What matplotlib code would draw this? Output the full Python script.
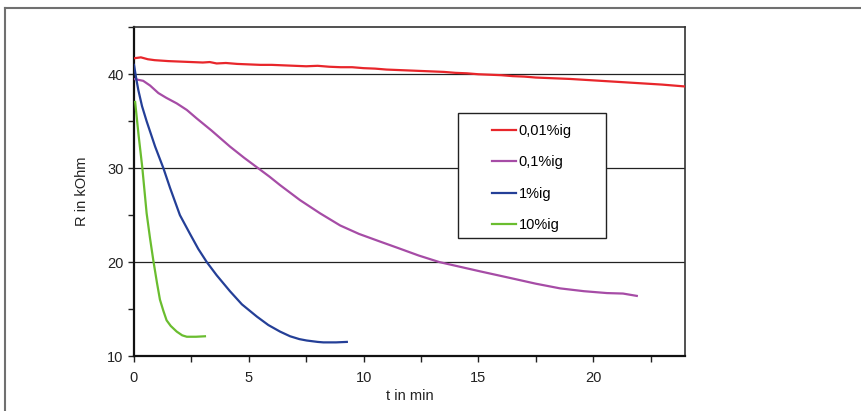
import numpy as np
import matplotlib.pyplot as plt
from matplotlib.lines import Line2D
from matplotlib.patches import Rectangle
from matplotlib.ticker import MultipleLocator, FixedLocator

plt.rcParams['font.family'] = ['Liberation Sans', 'DejaVu Sans']

red_t = [0, 0.3, 0.6, 0.9, 1.2, 1.5, 2.0, 2.5, 3.0, 3.3, 3.6, 4.0, 4.5, 5.0, 5.5, 6.0,
         6.5, 7.0, 7.5, 8.0, 8.5, 9.0, 9.5, 10.0, 10.5, 11.0, 11.5, 12.0, 12.5, 13.0,
         13.5, 14.0, 14.5, 15.0, 15.5, 16.0, 16.5, 17.0, 17.5, 18.0, 19.0, 20.0, 21.0,
         22.0, 23.0, 24.0]
red_R = [41.7, 41.8, 41.6, 41.5, 41.45, 41.4, 41.35, 41.3, 41.25, 41.3, 41.15, 41.2,
         41.1, 41.05, 41.0, 41.0, 40.95, 40.9, 40.85, 40.9, 40.8, 40.75, 40.75, 40.65,
         40.6, 40.5, 40.45, 40.4, 40.35, 40.3, 40.25, 40.15, 40.1, 40.0, 39.95, 39.9,
         39.8, 39.75, 39.65, 39.6, 39.5, 39.35, 39.2, 39.05, 38.9, 38.7]

purple_t = [0, 0.4, 0.7, 1.06, 1.4, 1.86, 2.3, 2.73, 3.38, 4.18, 4.8, 5.35, 5.9, 6.36,
            7.23, 8.1, 8.98, 9.8, 10.7, 11.5, 12.4, 13.3, 14.2, 15.1, 16.4, 17.5,
            18.56, 19.6, 20.6, 21.3, 21.9]
purple_R = [39.5, 39.3, 38.8, 38.0, 37.5, 36.9, 36.2, 35.3, 34.0, 32.3, 31.1, 30.1,
            29.1, 28.2, 26.6, 25.2, 23.9, 23.0, 22.2, 21.5, 20.7, 20.0, 19.5, 19.0,
            18.3, 17.7, 17.2, 16.9, 16.7, 16.65, 16.4]

blue_t = [0, 0.1, 0.19, 0.35, 0.55, 0.92, 1.28, 1.57, 2.0, 2.44, 2.8, 3.17, 3.6, 4.18,
          4.7, 5.35, 5.85, 6.36, 6.8, 7.2, 7.52, 8.0, 8.25, 8.8, 9.27]
blue_R = [41.0, 39.5, 38.3, 36.6, 35.0, 32.3, 30.0, 27.9, 25.0, 23.0, 21.4, 20.0, 18.6,
          16.9, 15.5, 14.2, 13.3, 12.6, 12.1, 11.8, 11.65, 11.5, 11.45, 11.45, 11.5]

green_t = [0.05, 0.2, 0.36, 0.55, 0.7, 0.84, 1.0, 1.13, 1.28, 1.42, 1.6, 1.86, 2.1,
           2.3, 2.7, 3.09]
green_R = [37.05, 33.5, 30.1, 25.2, 22.5, 20.2, 17.8, 16.0, 14.8, 13.8, 13.2, 12.6,
           12.2, 12.05, 12.05, 12.1]

labels = ['0,01%ig', '0,1%ig', '1%ig', '10%ig']
colors = ['#e8262b', '#a64ca6', '#243f97', '#6abd2f']

W, H = 862, 411
fig = plt.figure(figsize=(W / 100, H / 100), dpi=100)
ax = fig.add_axes([134 / W, 1 - 356 / H, 551 / W, 328.7 / H])

# Rahmen links/oben
fig.add_artist(Line2D([5 / W, 5 / W], [0, 1 - 8 / H], transform=fig.transFigure,
                      color='#707070', lw=1.5))
fig.add_artist(Line2D([5 / W, 1], [1 - 8 / H, 1 - 8 / H], transform=fig.transFigure,
                      color='#707070', lw=1.5))

series = [(red_t, red_R), (purple_t, purple_R), (blue_t, blue_R), (green_t, green_R)]
handles = []
for (t, r), c, lab in zip(series, colors, labels):
    h, = ax.plot(t, r, color=c, lw=1.6, label=lab, zorder=3,
                 solid_joinstyle='round')
    handles.append(h)

ax.set_xlim(0, 24)
ax.set_ylim(10, 45)
ax.xaxis.set_major_locator(MultipleLocator(5))
ax.xaxis.set_minor_locator(MultipleLocator(2.5))
ax.yaxis.set_major_locator(FixedLocator([10, 20, 30, 40]))
ax.yaxis.set_minor_locator(MultipleLocator(5))
ax.tick_params(which='both', direction='out', length=4.5, width=1.0, color='#222222',
               labelsize=10.5, labelcolor='#222222')
ax.tick_params(axis='x', pad=6.5)
ax.tick_params(axis='y', pad=3)
ax.grid(axis='y', which='major', color='#222222', lw=0.9, zorder=1)
for s in ax.spines.values():
    s.set_linewidth(1.2)
    s.set_color('#333333')
ax.spines['left'].set_color('#111111')
ax.spines['bottom'].set_color('#111111')
ax.spines['left'].set_linewidth(1.6)
ax.spines['bottom'].set_linewidth(1.6)

ax.set_xlabel('t in min', fontsize=10.5, color='#222222', labelpad=3)
ax.set_ylabel('R in kOhm', fontsize=10.5, color='#222222', labelpad=13)

# Legendenkasten
bx0, by0, bx1, by1 = 458, 113, 606, 238
ax.add_artist(Rectangle((bx0 / W, 1 - by1 / H), (bx1 - bx0) / W, (by1 - by0) / H,
                        transform=fig.transFigure, facecolor='white',
                        edgecolor='#222222', lw=1.0, zorder=4))
leg = ax.legend(handles=handles, loc='center', frameon=False,
                bbox_to_anchor=((bx0 + bx1) / 2 / W, 1 - ((by0 + by1) / 2 + 2.5) / H),
                bbox_transform=fig.transFigure, fontsize=10.5, handlelength=1.6,
                handletextpad=0.2, labelspacing=1.2)
leg.set_zorder(5)

fig.savefig('out.png', dpi=100)
